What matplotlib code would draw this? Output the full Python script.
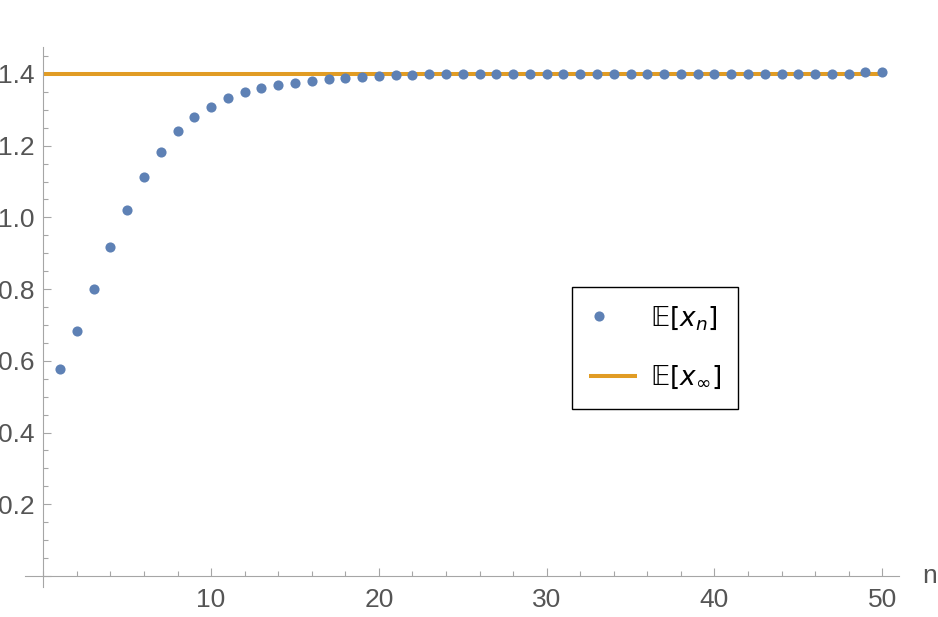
import numpy as np
import matplotlib
matplotlib.use("Agg")
import matplotlib.pyplot as plt
from matplotlib.ticker import MultipleLocator, FixedLocator
from matplotlib.legend_handler import HandlerLine2D

# ---- data ----
n_values = list(range(1, 51))
expected_xn = [
    0.578, 0.683, 0.800, 0.916, 1.020, 1.112, 1.182, 1.241, 1.280, 1.309,
    1.333, 1.350, 1.361, 1.368, 1.374, 1.380, 1.386, 1.388, 1.392, 1.394,
    1.396, 1.398, 1.399, 1.399, 1.399, 1.399, 1.399, 1.399, 1.399, 1.399,
    1.399, 1.399, 1.399, 1.399, 1.399, 1.399, 1.399, 1.399, 1.399, 1.399,
    1.399, 1.399, 1.399, 1.399, 1.399, 1.399, 1.399, 1.399, 1.405, 1.405,
]
expected_limit = 1.4
limit_span = [0, 50]
x_major_ticks = [10, 20, 30, 40, 50]
y_major_ticks = [0.0, 0.2, 0.4, 0.6, 0.8, 1.0, 1.2, 1.4]
y_tick_labels = ["", "0.2", "0.4", "0.6", "0.8", "1.0", "1.2", "1.4"]
legend_labels = ["\U0001D53C[$x_n$]", "\U0001D53C[$x_\\infty$]"]

BLUE = "#5E81B5"
ORANGE = "#E19C24"
AXIS_GRAY = "#a6a6a6"
LABEL_GRAY = "#555555"

plt.rcParams["font.family"] = ["Liberation Sans", "DejaVu Sans"]

W, H = 938, 617
fig = plt.figure(figsize=(W / 100, H / 100), dpi=100)
ax = fig.add_axes([25 / W, 30.3 / H, 874 / W, 540 / H])

ax.plot(limit_span, [expected_limit, expected_limit], color=ORANGE, lw=2.9,
        solid_capstyle="butt", label=legend_labels[1], zorder=2)
ax.plot(n_values, expected_xn, linestyle="none", marker="o", markersize=7.3,
        markeredgewidth=0, color=BLUE, label=legend_labels[0], zorder=3)

ax.set_xlim(-1.09, 51.0)
ax.set_ylim(-0.030, 1.476)

for side in ("top", "right"):
    ax.spines[side].set_visible(False)
ax.spines["left"].set_position(("data", 0))
ax.spines["bottom"].set_position(("data", 0))
for side in ("left", "bottom"):
    ax.spines[side].set_color(AXIS_GRAY)
    ax.spines[side].set_linewidth(0.8)

ax.xaxis.set_major_locator(FixedLocator(x_major_ticks))
ax.xaxis.set_minor_locator(MultipleLocator(2))
ax.yaxis.set_major_locator(FixedLocator(y_major_ticks))
ax.yaxis.set_minor_locator(MultipleLocator(0.05))
ax.set_yticklabels(y_tick_labels)

ax.tick_params(axis="both", which="both", direction="in", color=AXIS_GRAY,
               width=0.8, labelcolor=LABEL_GRAY, labelsize=19)
ax.tick_params(axis="both", which="major", length=6.0)
ax.tick_params(axis="both", which="minor", length=3.6)
ax.tick_params(axis="x", which="major", pad=8.5)
ax.tick_params(axis="y", which="major", pad=6)

ax.text(52.8, -0.0195, "n", ha="center", va="baseline", fontsize=19,
        color=LABEL_GRAY, clip_on=False)


class OffsetMarkerHandler(HandlerLine2D):
    def create_artists(self, legend, orig_handle, xdescent, ydescent, width,
                       height, fontsize, trans):
        artists = super().create_artists(legend, orig_handle, xdescent, ydescent,
                                         width, height, fontsize, trans)
        for a in artists:
            xd = np.asarray(a.get_xdata(), dtype=float)
            if len(xd) == 3:
                xd = np.array([xd[0], xd[0] + 0.20 * (xd[2] - xd[0]), xd[2]])
                a.set_xdata(xd)
            elif len(xd) == 1:
                a.set_xdata([-xdescent + 0.20 * width])
        return artists


handles, labels = ax.get_legend_handles_labels()
order = [1, 0]
leg = ax.legend([handles[i] for i in order], [labels[i] for i in order],
                loc="upper left", bbox_to_anchor=(572 / W, 1 - 287 / H),
                bbox_transform=fig.transFigure,
                prop={"family": ["DejaVu Sans"], "size": 19},
                frameon=True, fancybox=False, framealpha=1, edgecolor="black",
                borderpad=0.65, labelspacing=1.22, handlelength=1.8,
                handletextpad=0.5, borderaxespad=0,
                handler_map={handles[1]: OffsetMarkerHandler(numpoints=1)})
leg.get_frame().set_linewidth(1.0)

fig.savefig("out.png", dpi=100)
